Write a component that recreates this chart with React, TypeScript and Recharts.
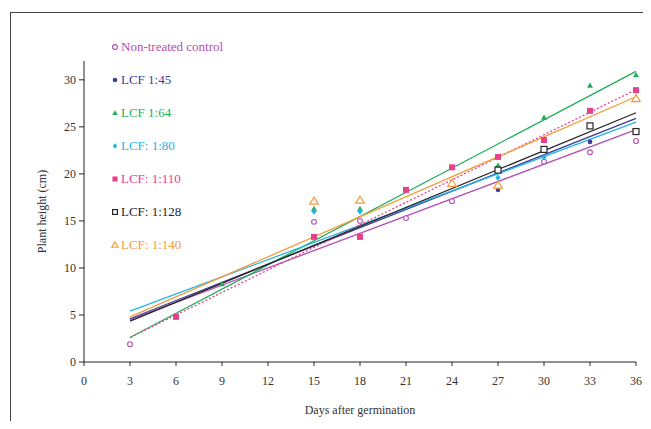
import React from "react";
import { ComposedChart, Scatter, Line, XAxis, YAxis } from "recharts";

const days = [3, 6, 9, 15, 18, 21, 24, 27, 30, 33, 36];
const xTicks = [0, 3, 6, 9, 12, 15, 18, 21, 24, 27, 30, 33, 36];
const yTicks = [0, 5, 10, 15, 20, 25, 30];

const seriesNames = [
  "Non-treated control",
  "LCF 1:45",
  "LCF 1:64",
  "LCF: 1:80",
  "LCF: 1:110",
  "LCF: 1:128",
  "LCF: 1:140",
];
const seriesColors = ["#b24fb4", "#3c3c9c", "#1fae57", "#22b4ea", "#e8418c", "#262626", "#f59b3b"];
const seriesShapes = ["openCircle", "dot", "triangle", "diamond", "square", "openSquare", "openTriangle"];

// values per day (null = not visible in the figure)
const control = [1.9, null, null, 14.9, 15.0, 15.3, 17.1, null, 21.3, 22.3, 23.5];
const lcf45 = [null, 4.8, null, null, null, null, null, 18.3, null, 23.4, null];
const lcf64 = [null, null, 8.3, 16.3, 16.3, null, null, 20.9, 26.0, 29.4, 30.5];
const lcf80 = [null, null, null, 16.0, 16.0, null, null, 19.6, 21.8, null, null];
const lcf110 = [null, 4.8, null, 13.3, 13.3, 18.3, 20.7, 21.8, 23.6, 26.7, 28.9];
const lcf128 = [null, null, null, null, null, null, null, 20.4, 22.6, 25.1, 24.5];
const lcf140 = [null, null, null, 17.1, 17.2, null, 19.0, 18.8, null, null, 28.0];
const seriesValues = [control, lcf45, lcf64, lcf80, lcf110, lcf128, lcf140];

// linear trendline values at day 3 and day 36
const trendDays = [3, 36];
const trendStart = [4.5, 4.6, 2.6, 5.4, 2.6, 4.35, 4.8];
const trendEnd = [24.7, 25.9, 30.9, 25.5, 28.95, 26.5, 28.2];

const FONT = "Liberation Serif, DejaVu Serif, serif";

function Marker({ kind, color, cx, cy, s = 1 }: { kind: string; color: string; cx: number; cy: number; s?: number }) {
  switch (kind) {
    case "openCircle":
      return <circle cx={cx} cy={cy} r={2.4 * s} fill="#fff" stroke={color} strokeWidth={1.1} />;
    case "dot":
      return <circle cx={cx} cy={cy} r={2.3 * s} fill={color} />;
    case "triangle":
      return <polygon points={`${cx},${cy - 3 * s} ${cx + 3 * s},${cy + 2.2 * s} ${cx - 3 * s},${cy + 2.2 * s}`} fill={color} />;
    case "diamond":
      return <polygon points={`${cx},${cy - 3.2 * s} ${cx + 2.6 * s},${cy} ${cx},${cy + 3.2 * s} ${cx - 2.6 * s},${cy}`} fill={color} />;
    case "square":
      return <rect x={cx - 3 * s} y={cy - 3 * s} width={6 * s} height={6 * s} fill={color} />;
    case "openSquare":
      return <rect x={cx - 3 * s} y={cy - 3 * s} width={6 * s} height={6 * s} fill="#fff" stroke={color} strokeWidth={1.2} />;
    case "openTriangle":
      return (
        <polygon
          points={`${cx},${cy - 4 * s} ${cx + 4.3 * s},${cy + 3 * s} ${cx - 4.3 * s},${cy + 3 * s}`}
          fill="#fff"
          stroke={color}
          strokeWidth={1.2}
        />
      );
    default:
      return null;
  }
}

export default function App() {
  const scatterData = seriesValues.map((vals) =>
    days
      .map((d, i) => ({ day: d, v: vals[i] }))
      .filter((p) => p.v !== null)
  );
  const trendData = trendStart.map((s, i) => [
    { day: trendDays[0], v: s },
    { day: trendDays[1], v: trendEnd[i] },
  ]);
  const legendTop = [47, 80, 113, 146, 179, 212, 245];
  const legendScale = [1, 1, 0.9, 0.85, 0.85, 0.8, 0.75];

  return (
    <div style={{ position: "relative", width: 651, height: 429, margin: -8, overflow: "hidden", background: "#fff", fontFamily: FONT }}>
      <div style={{ position: "absolute", left: 0, top: 0, width: 651, height: 2, background: "#555" }} />
      <div style={{ position: "absolute", left: 10, top: 12, width: 700, height: 500, border: "1.5px solid #444" }} />
      <div style={{ position: "absolute", left: 0, top: 0 }}>
        <ComposedChart width={651} height={429} margin={{ top: 61, right: 15, bottom: 37, left: 24 }}>
          <XAxis
            type="number"
            dataKey="day"
            domain={[0, 36]}
            ticks={xTicks}
            interval={0}
            allowDuplicatedCategory={false}
            stroke="#222"
            tickSize={4}
            height={30}
            tick={{ fill: "#333", fontSize: 12, fontFamily: FONT, dy: 8 }}
            label={{ value: "Days after germination", position: "insideBottom", offset: -22, fill: "#333", fontSize: 12, fontFamily: FONT }}
          />
          <YAxis
            type="number"
            domain={[0, 32]}
            ticks={yTicks}
            interval={0}
            stroke="#222"
            tickSize={5}
            width={60}
            tick={{ fill: "#333", fontSize: 12, fontFamily: FONT, dx: -1 }}
            label={{ value: "Plant height (cm)", angle: -90, position: "insideLeft", offset: 18, fill: "#333", fontSize: 12, fontFamily: FONT, style: { textAnchor: "middle" } }}
          />
          {trendData.map((td, i) => (
            <Line
              key={"t" + i}
              data={td}
              dataKey="v"
              type="linear"
              stroke={seriesColors[i]}
              strokeWidth={1.3}
              strokeDasharray={i === 4 ? "2 2" : undefined}
              dot={false}
              activeDot={false}
              isAnimationActive={false}
            />
          ))}
          {scatterData.map((sd, i) => (
            <Scatter
              key={"s" + i}
              data={sd}
              dataKey="v"
              isAnimationActive={false}
              shape={(p: any) => <Marker kind={seriesShapes[i]} color={seriesColors[i]} cx={p.cx} cy={p.cy} />}
            />
          ))}
        </ComposedChart>
      </div>
      {seriesNames.map((name, i) => (
        <div
          key={name}
          style={{ position: "absolute", left: 110, top: legendTop[i] - 9, height: 18, display: "flex", alignItems: "center", color: seriesColors[i], fontSize: 13, fontFamily: FONT, whiteSpace: "nowrap" }}
        >
          <svg width={10} height={12} style={{ marginRight: 1 }}>
            <Marker kind={seriesShapes[i]} color={seriesColors[i]} cx={5} cy={6} s={legendScale[i]} />
          </svg>
          {name}
        </div>
      ))}
    </div>
  );
}
